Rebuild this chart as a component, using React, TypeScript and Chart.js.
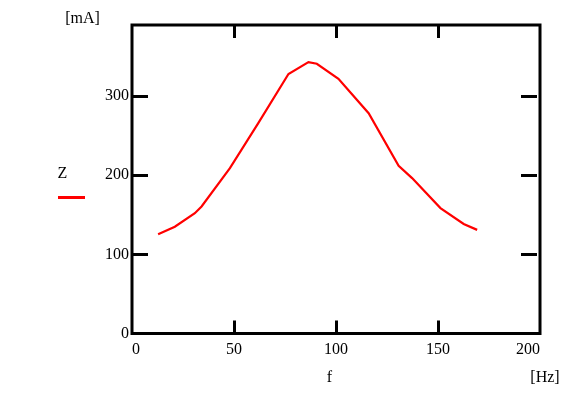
import React, { useEffect, useRef } from "react";
import { Chart, registerables } from "chart.js";

Chart.register(...registerables);

const freqHz = [12.8, 21, 30.8, 34.1, 48, 61.9, 76.7, 86.5, 90.6, 101.2, 116, 130.7, 137.3, 151.2, 162.6, 169.2];
const currentMA = [125.5, 135, 152, 160.6, 209, 266, 328, 343, 341, 322, 278.5, 212, 196.5, 158.6, 138.4, 131];
const xTicks = [0, 50, 100, 150, 200];
const yTicks = [0, 100, 200, 300];
const xRange = [0, 200];
const yRange = [0, 390];
const seriesName = "Z";
const yUnit = "[mA]";
const xName = "f";
const xUnit = "[Hz]";

const FONT = "'Liberation Serif', 'Times New Roman', serif";

const framePlugin = {
  id: "mathcadFrame",
  afterDraw(chart: any) {
    const { ctx, chartArea } = chart;
    const { left, right, top, bottom } = chartArea;
    const xs = chart.scales.x;
    const ys = chart.scales.y;
    ctx.save();
    ctx.strokeStyle = "#000";
    ctx.lineWidth = 3;
    ctx.strokeRect(left, top, right - left, bottom - top);
    // inward tick marks
    ctx.lineWidth = 3;
    xTicks.forEach((v) => {
      if (v === xRange[0] || v === xRange[1]) return;
      const px = Math.round(xs.getPixelForValue(v)) + 0.5;
      ctx.beginPath();
      ctx.moveTo(px, bottom);
      ctx.lineTo(px, bottom - 13);
      ctx.moveTo(px, top);
      ctx.lineTo(px, top + 13);
      ctx.stroke();
    });
    yTicks.forEach((v) => {
      if (v === yRange[0]) return;
      const py = Math.round(ys.getPixelForValue(v)) + 0.5;
      ctx.beginPath();
      ctx.moveTo(left, py);
      ctx.lineTo(left + 16, py);
      ctx.moveTo(right - 3, py);
      ctx.lineTo(right - 19, py);
      ctx.stroke();
    });
    // texts
    ctx.fillStyle = "#000";
    ctx.font = `16px ${FONT}`;
    ctx.textAlign = "center";
    ctx.textBaseline = "middle";
    ctx.fillText(yUnit, 82.5, 18.5);
    ctx.fillText(seriesName, 62.5, 174);
    ctx.fillText(xName, 329.5, 378);
    ctx.fillText(xUnit, 545, 378);
    // legend line
    ctx.strokeStyle = "#ff0000";
    ctx.lineWidth = 3;
    ctx.beginPath();
    ctx.moveTo(58, 197.5);
    ctx.lineTo(85, 197.5);
    ctx.stroke();
    ctx.restore();
  },
};

export default function App() {
  const ref = useRef<HTMLCanvasElement | null>(null);
  useEffect(() => {
    document.body.style.margin = "0";
    if (!ref.current) return;
    const chart = new Chart(ref.current, {
      type: "scatter",
      data: {
        datasets: [
          {
            label: seriesName,
            data: freqHz.map((f, i) => ({ x: f, y: currentMA[i] })),
            showLine: true,
            borderColor: "#ff0000",
            borderWidth: 2.2,
            pointRadius: 0,
            tension: 0,
            fill: false,
          },
        ],
      },
      options: {
        animation: false,
        responsive: false,
        maintainAspectRatio: false,
        layout: { padding: { top: 25, right: 31, left: 0, bottom: 0 } },
        plugins: { legend: { display: false }, tooltip: { enabled: false } },
        scales: {
          x: {
            type: "linear",
            min: xRange[0],
            max: xRange[1],
            afterBuildTicks: (s: any) => {
              s.ticks = xTicks.map((v) => ({ value: v }));
            },
            afterFit: (s: any) => {
              s.height = 59.5;
            },
            grid: { display: false, drawTicks: false },
            border: { display: false },
            ticks: {
              align: "inner",
              padding: 7,
              color: "#000",
              font: { family: FONT, size: 16 },
              maxRotation: 0,
            },
          },
          y: {
            type: "linear",
            min: yRange[0],
            max: yRange[1],
            afterBuildTicks: (s: any) => {
              s.ticks = yTicks.map((v) => ({ value: v }));
            },
            afterFit: (s: any) => {
              s.width = 132;
            },
            grid: { display: false, drawTicks: false },
            border: { display: false },
            ticks: {
              padding: 3,
              color: "#000",
              font: { family: FONT, size: 16 },
            },
          },
        },
      },
      plugins: [framePlugin],
    });
    return () => chart.destroy();
  }, []);
  return (
    <div style={{ width: 571, height: 393 }}>
      <canvas ref={ref} width={571} height={393} style={{ display: "block" }} />
    </div>
  );
}
